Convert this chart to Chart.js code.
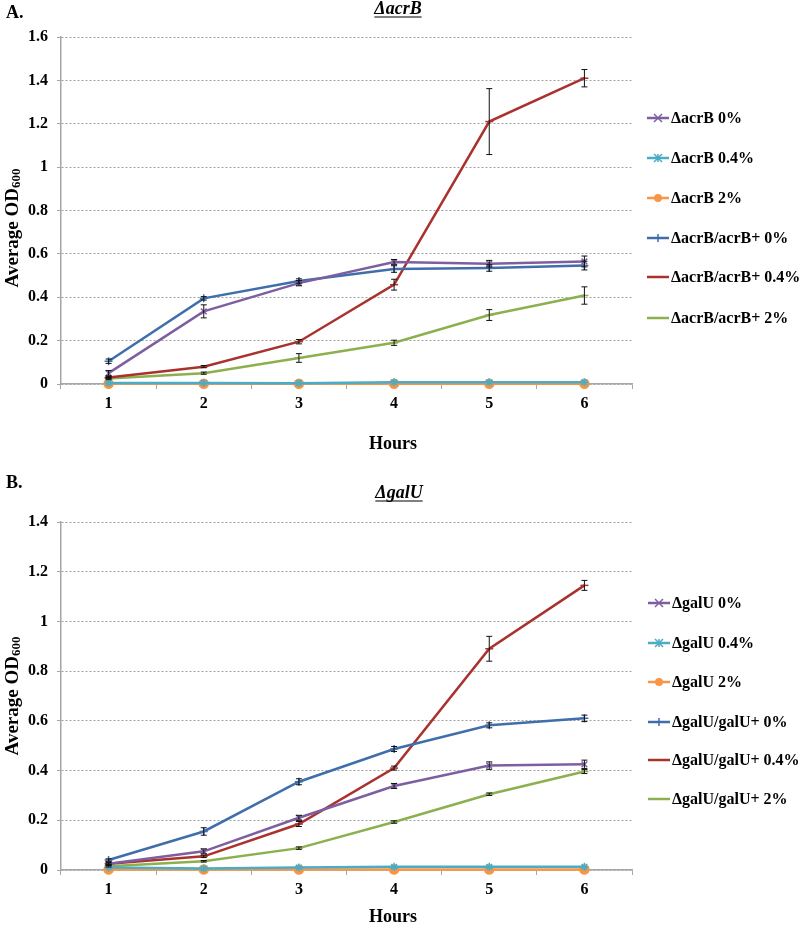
<!DOCTYPE html>
<html>
<head>
<meta charset="utf-8">
<script src="https://cdn.jsdelivr.net/npm/chart.js@4.4.1/dist/chart.umd.min.js"></script>
<style>
  body { margin: 0; background: #fff; }
  .panel { position: absolute; left: 0; width: 800px; }
</style>
</head>
<body>
<div class="panel" style="top:0;height:466px"><canvas id="chartA" width="800" height="466"></canvas></div>
<div class="panel" style="top:466px;height:467px"><canvas id="chartB" width="800" height="467"></canvas></div>
<script>
// shared
const hours = ['1', '2', '3', '4', '5', '6'];
const seriesColors = ['#7D5FA0', '#4BACC6', '#F79646', '#3F6EAA', '#A9322F', '#8DB04F'];
const seriesMarkers = ['crossRot', 'star', 'circle', 'cross', 'line', 'line'];

// panel A - ΔacrB
const acrbLabels = ['ΔacrB 0%', 'ΔacrB 0.4%', 'ΔacrB 2%', 'ΔacrB/acrB+ 0%', 'ΔacrB/acrB+ 0.4%', 'ΔacrB/acrB+ 2%'];
const acrbValues = [
  [0.05, 0.335, 0.465, 0.562, 0.555, 0.565],
  [0.005, 0.005, 0.004, 0.008, 0.008, 0.008],
  [0.001, 0.001, 0.001, 0.001, 0.001, 0.001],
  [0.105, 0.395, 0.475, 0.53, 0.535, 0.546],
  [0.03, 0.08, 0.195, 0.458, 1.21, 1.41],
  [0.025, 0.05, 0.12, 0.19, 0.318, 0.408]
];
const acrbErrors = [
  [0.012, 0.03, 0.012, 0.012, 0.015, 0.025],
  [0, 0, 0, 0, 0, 0],
  [0, 0, 0, 0, 0, 0],
  [0.01, 0.008, 0.01, 0.015, 0.015, 0.02],
  [0.005, 0.005, 0.01, 0.025, 0.152, 0.04],
  [0.005, 0.005, 0.02, 0.012, 0.025, 0.04]
];
const acrbTicks = { max: 1.6, step: 0.2 };

// panel B - ΔgalU
const galuLabels = ['ΔgalU 0%', 'ΔgalU 0.4%', 'ΔgalU 2%', 'ΔgalU/galU+ 0%', 'ΔgalU/galU+ 0.4%', 'ΔgalU/galU+ 2%'];
const galuValues = [
  [0.025, 0.075, 0.21, 0.338, 0.42, 0.425],
  [0.01, 0.006, 0.01, 0.013, 0.013, 0.013],
  [0.002, 0.002, 0.002, 0.002, 0.002, 0.002],
  [0.04, 0.155, 0.355, 0.487, 0.582, 0.61],
  [0.025, 0.055, 0.185, 0.41, 0.89, 1.145],
  [0.015, 0.035, 0.088, 0.193, 0.305, 0.396]
];
const galuErrors = [
  [0.005, 0.01, 0.01, 0.01, 0.015, 0.017],
  [0, 0, 0, 0, 0, 0],
  [0, 0, 0, 0, 0, 0],
  [0.005, 0.015, 0.012, 0.01, 0.01, 0.013],
  [0.003, 0.005, 0.01, 0.008, 0.05, 0.02],
  [0.003, 0.003, 0.005, 0.005, 0.005, 0.008]
];
const galuTicks = { max: 1.4, step: 0.2 };

const serif = '"Liberation Serif", "Times New Roman", serif';

function drawMarker(ctx, style, x, y, r, color) {
  ctx.save();
  ctx.strokeStyle = color;
  ctx.fillStyle = color;
  ctx.lineWidth = 1.5;
  ctx.beginPath();
  if (style === 'circle') {
    ctx.arc(x, y, r, 0, Math.PI * 2);
    ctx.fill();
  } else if (style === 'crossRot') {
    ctx.moveTo(x - r, y - r); ctx.lineTo(x + r, y + r);
    ctx.moveTo(x - r, y + r); ctx.lineTo(x + r, y - r);
    ctx.stroke();
  } else if (style === 'star') {
    ctx.moveTo(x - r, y - r); ctx.lineTo(x + r, y + r);
    ctx.moveTo(x - r, y + r); ctx.lineTo(x + r, y - r);
    ctx.moveTo(x, y - r); ctx.lineTo(x, y + r);
    ctx.stroke();
  } else if (style === 'cross') {
    ctx.moveTo(x, y - r); ctx.lineTo(x, y + r);
    ctx.moveTo(x - r, y); ctx.lineTo(x + r, y);
    ctx.stroke();
  } else {
    ctx.moveTo(x - r, y); ctx.lineTo(x + r, y);
    ctx.stroke();
  }
  ctx.restore();
}

// error bars, titles and legend
const decorPlugin = {
  id: 'decor',
  afterDatasetsDraw(chart) {
    const ctx = chart.ctx;
    const ys = chart.scales.y;
    chart.data.datasets.forEach((ds, i) => {
      const meta = chart.getDatasetMeta(i);
      ds.errors.forEach((e, j) => {
        if (!e) return;
        const x = meta.data[j].x;
        const t = ys.getPixelForValue(ds.data[j] + e);
        const b = ys.getPixelForValue(ds.data[j] - e);
        ctx.save();
        ctx.strokeStyle = '#111';
        ctx.lineWidth = 1;
        ctx.beginPath();
        ctx.moveTo(x, t); ctx.lineTo(x, b);
        ctx.moveTo(x - 3, t); ctx.lineTo(x + 3, t);
        ctx.moveTo(x - 3, b); ctx.lineTo(x + 3, b);
        ctx.stroke();
        ctx.restore();
      });
    });
  },
  afterDraw(chart, args, opts) {
    const ctx = chart.ctx;
    ctx.save();
    ctx.fillStyle = '#000';
    ctx.strokeStyle = '#000';
    // panel letter
    ctx.font = 'bold 18px ' + serif;
    ctx.textBaseline = 'middle';
    ctx.textAlign = 'left';
    ctx.fillText(opts.letter, 6, opts.letterY);
    // title (italic, underlined)
    ctx.font = 'italic bold 18px ' + serif;
    ctx.textAlign = 'center';
    ctx.fillText(opts.title, opts.titleX, opts.titleY);
    const tw = ctx.measureText(opts.title).width;
    ctx.lineWidth = 1;
    ctx.beginPath();
    ctx.moveTo(opts.titleX - tw / 2, opts.titleY + 8);
    ctx.lineTo(opts.titleX + tw / 2, opts.titleY + 8);
    ctx.stroke();
    // x title
    ctx.font = 'bold 18px ' + serif;
    ctx.fillText('Hours', 393, opts.hoursY);
    // y title with subscript
    ctx.save();
    ctx.translate(13, opts.yTitleY);
    ctx.rotate(-Math.PI / 2);
    ctx.font = 'bold 19px ' + serif;
    const w1 = ctx.measureText('Average OD').width;
    ctx.font = 'bold 13px ' + serif;
    const w2 = ctx.measureText('600').width;
    const start = -(w1 + w2) / 2;
    ctx.textAlign = 'left';
    ctx.font = 'bold 19px ' + serif;
    ctx.fillText('Average OD', start, 0);
    ctx.font = 'bold 13px ' + serif;
    ctx.fillText('600', start + w1, 4);
    ctx.restore();
    // legend
    chart.data.datasets.forEach((ds, i) => {
      const y = opts.legendY[i];
      const x1 = opts.legendX;
      ctx.save();
      ctx.strokeStyle = ds.borderColor;
      ctx.lineWidth = 2.5;
      ctx.beginPath();
      ctx.moveTo(x1, y); ctx.lineTo(x1 + 22, y);
      ctx.stroke();
      ctx.restore();
      drawMarker(ctx, ds.pointStyle, x1 + 11, y, 4, ds.borderColor);
      ctx.font = 'bold 16px ' + serif;
      ctx.textAlign = 'left';
      ctx.fillStyle = '#000';
      ctx.fillText(ds.label, x1 + 24, y + 1);
    });
    ctx.restore();
  }
};

function makeChart(id, labels, values, errors, ticks, top, xHeight, decor) {
  const datasets = labels.map((lab, i) => ({
    label: lab,
    data: values[i],
    errors: errors[i],
    borderColor: seriesColors[i],
    backgroundColor: seriesColors[i],
    pointStyle: seriesMarkers[i],
    pointRadius: seriesMarkers[i] === 'circle' ? 4.5 : 4,
    pointBorderWidth: 1.5,
    borderWidth: 2.5,
    tension: 0,
    clip: false
  }));
  return new Chart(document.getElementById(id), {
    type: 'line',
    data: { labels: hours, datasets: datasets },
    plugins: [decorPlugin],
    options: {
      responsive: false,
      animation: false,
      layout: { padding: { top: top, right: 168, left: 0, bottom: 0 } },
      plugins: {
        legend: { display: false },
        tooltip: { enabled: false },
        decor: decor
      },
      scales: {
        x: {
          offset: true,
          afterFit: s => { s.height = xHeight; },
          grid: { offset: true, drawOnChartArea: false, drawTicks: true, tickLength: 5, color: '#a6a6a6' },
          border: { color: '#a6a6a6', width: 1.5 },
          ticks: { color: '#000', padding: 5, font: { family: serif, size: 16, weight: 'bold' } }
        },
        y: {
          min: 0,
          max: ticks.max,
          afterFit: s => { s.width = 61; },
          ticks: {
            stepSize: ticks.step, color: '#000', padding: 9,
            font: { family: serif, size: 16, weight: 'bold' },
            callback: v => String(Number(v.toFixed(2)))
          },
          grid: { color: '#a0a0a0', tickLength: 4, tickColor: '#a6a6a6' },
          border: { color: '#a6a6a6', width: 1.5, dash: [2, 2] }
        }
      }
    }
  });
}

makeChart('chartA', acrbLabels, acrbValues, acrbErrors, acrbTicks, 37, 82, {
  letter: 'A.', letterY: 13, title: 'ΔacrB', titleX: 398, titleY: 9,
  hoursY: 444, yTitleY: 228, legendX: 647, legendY: [118, 158, 198, 238, 277, 318]
});
makeChart('chartB', galuLabels, galuValues, galuErrors, galuTicks, 56, 63, {
  letter: 'B.', letterY: 17, title: 'ΔgalU', titleX: 399, titleY: 27,
  hoursY: 451, yTitleY: 230, legendX: 648, legendY: [137, 177, 216, 256, 294, 333]
});
</script>
</body>
</html>
